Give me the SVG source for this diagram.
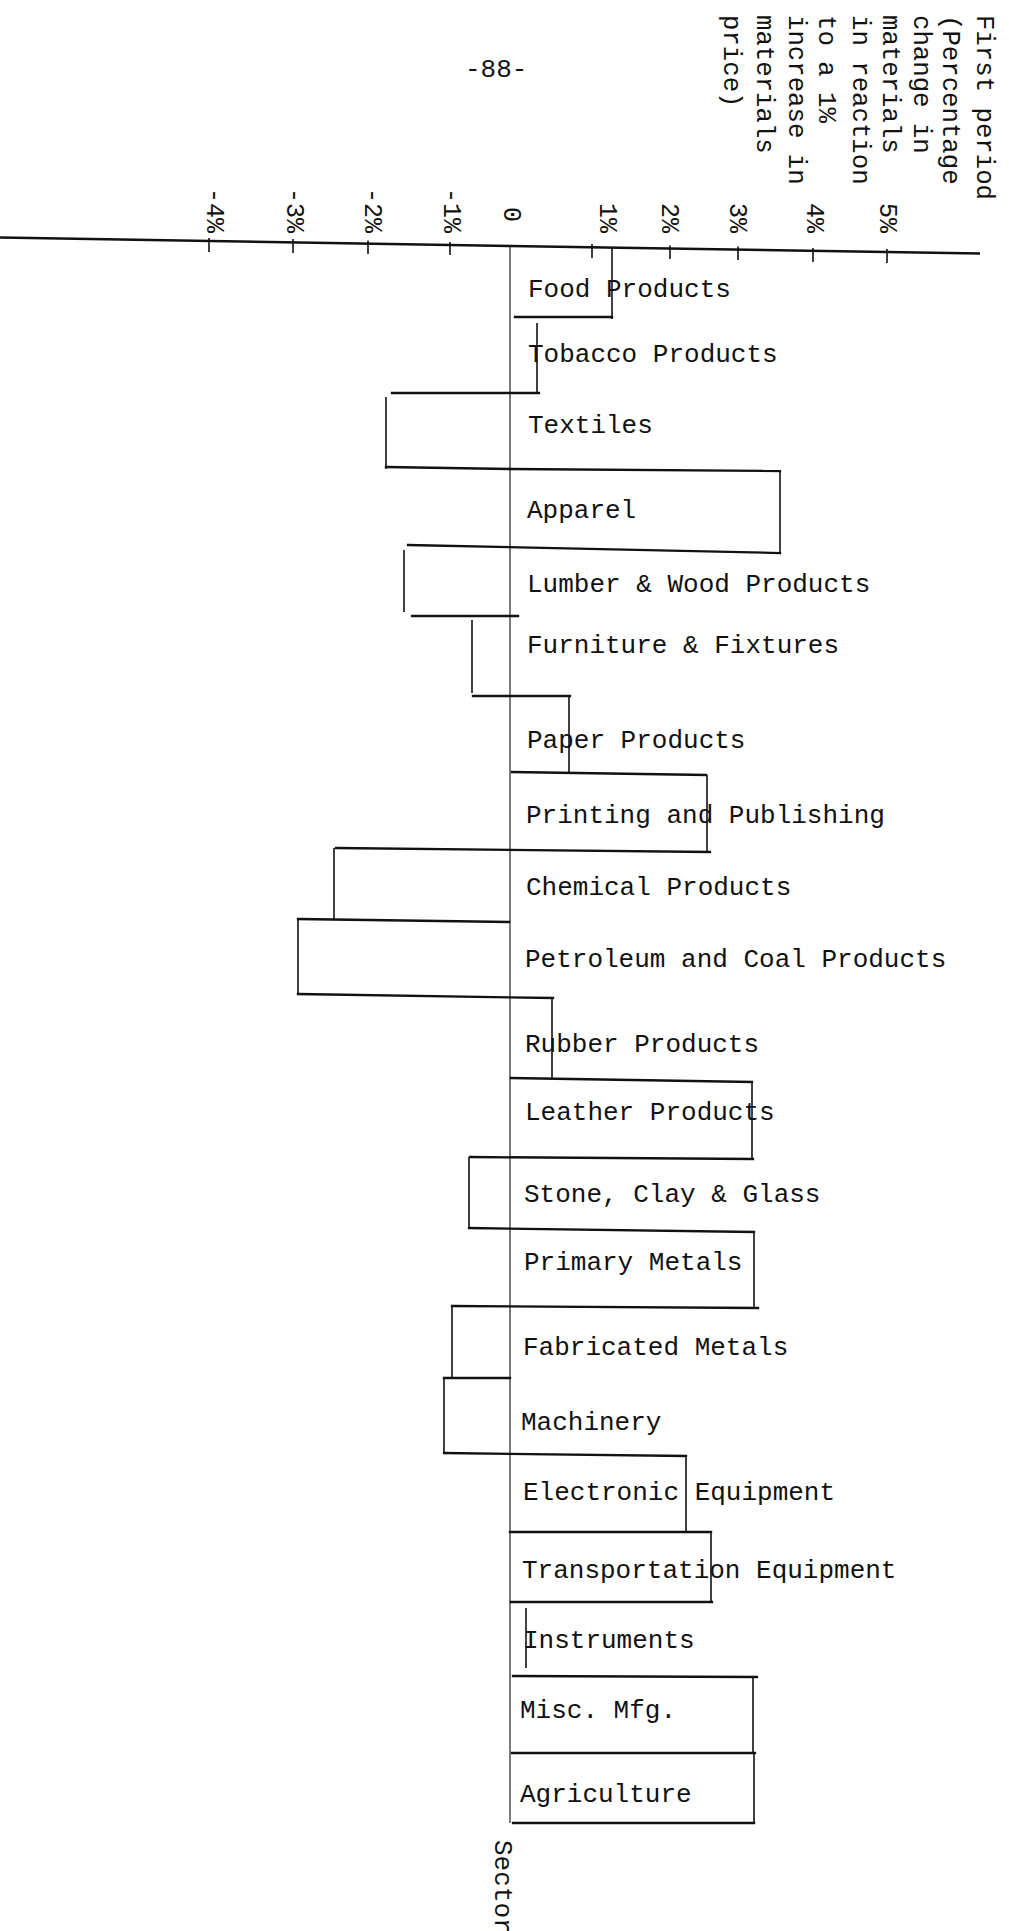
<svg xmlns="http://www.w3.org/2000/svg" width="1009" height="1931" viewBox="0 0 1009 1931">
<style>
text{font-family:"Liberation Mono","Courier New",monospace;fill:#111}
.lbl{font-size:26px}
.ttl{font-size:25.7px}
.ax{font-size:25px}
.h{stroke:#111;stroke-width:2.3;fill:none;stroke-linecap:square}
.v{stroke:#111;stroke-width:1.6;fill:none}
.z{stroke:#222;stroke-width:1.2;fill:none}
.tk{stroke:#111;stroke-width:1.6}
</style>
<rect width="1009" height="1931" fill="#fff"/>

<g id="page-number"><text class="lbl" x="465" y="77">-88-</text></g>

<g id="title">
<text class="ttl" transform="translate(977,15) rotate(90)">First period</text>
<text class="ttl" transform="translate(943,15) rotate(90)">(Percentage</text>
<text class="ttl" transform="translate(914,15) rotate(90)">change in</text>
<text class="ttl" transform="translate(883,15) rotate(90)">materials</text>
<text class="ttl" transform="translate(853,15) rotate(90)">in reaction</text>
<text class="ttl" transform="translate(819,15) rotate(90)">to a 1%</text>
<text class="ttl" transform="translate(789,15) rotate(90)">increase in</text>
<text class="ttl" transform="translate(757,15) rotate(90)">materials</text>
<text class="ttl" transform="translate(724,15) rotate(90)">price)</text>
</g>

<g id="axis">
<path d="M0 237.5 L510 246 L980 253.5" stroke="#111" stroke-width="2.4" fill="none"/>
<g class="tk">
<line x1="209" y1="238" x2="209" y2="252"/>
<line x1="293" y1="239" x2="293" y2="253"/>
<line x1="368" y1="240.5" x2="368" y2="254"/>
<line x1="450" y1="242" x2="450" y2="255"/>
<line x1="592" y1="244" x2="592" y2="258"/>
<line x1="670" y1="245.5" x2="670" y2="259"/>
<line x1="738" y1="246.5" x2="738" y2="260"/>
<line x1="813" y1="248" x2="813" y2="262"/>
<line x1="887" y1="249" x2="887" y2="263"/>
</g>
<g text-anchor="end">
<text class="ax" transform="translate(207,233) rotate(90)">-4%</text>
<text class="ax" transform="translate(287,233) rotate(90)">-3%</text>
<text class="ax" transform="translate(365,233) rotate(90)">-2%</text>
<text class="ax" transform="translate(444,233) rotate(90)">-1%</text>
<text class="ax" transform="translate(504,222) rotate(90)">0</text>
<text class="ax" transform="translate(600,233) rotate(90)">1%</text>
<text class="ax" transform="translate(662,233) rotate(90)">2%</text>
<text class="ax" transform="translate(730,233) rotate(90)">3%</text>
<text class="ax" transform="translate(807,233) rotate(90)">4%</text>
<text class="ax" transform="translate(880,233) rotate(90)">5%</text>
</g>
<text class="lbl" transform="translate(495,1840) rotate(90)">Sector</text>
</g>

<g id="connectors">
<path class="z" d="M510 246 V1823"/>
</g>

<g id="food"><path class="v" d="M612 248 V319"/><path class="h" d="M515 317 H612"/><text class="lbl" x="528" y="297">Food Products</text></g>
<g id="tobacco"><path class="v" d="M537 323 V394"/><path class="h" d="M392 393 H539"/><text class="lbl" x="528" y="362">Tobacco Products</text></g>
<g id="textiles"><path class="v" d="M386 397 V469"/><path class="h" d="M386 467 L510 469"/><text class="lbl" x="528" y="433">Textiles</text></g>
<g id="apparel"><path class="h" d="M510 469 L780 471"/><path class="v" d="M780 471 V553"/><path class="h" d="M408 545 L780 553"/><text class="lbl" x="527" y="518">Apparel</text></g>
<g id="lumber"><path class="v" d="M404 550 V612"/><path class="h" d="M412 616 H518"/><text class="lbl" x="527" y="592">Lumber &amp; Wood Products</text></g>
<g id="furniture"><path class="v" d="M472 620 V693"/><path class="h" d="M473 696 H570"/><text class="lbl" x="527" y="653">Furniture &amp; Fixtures</text></g>
<g id="paper"><path class="v" d="M569 697 V773"/><text class="lbl" x="527" y="748">Paper Products</text></g>
<g id="printing"><path class="h" d="M512 772 L706 775"/><path class="v" d="M707 775 V852"/><path class="h" d="M336 848 L710 852"/><text class="lbl" x="526" y="823">Printing and Publishing</text></g>
<g id="chemical"><path class="v" d="M334 848 V920"/><path class="h" d="M298 919 L509 922"/><text class="lbl" x="526" y="895">Chemical Products</text></g>
<g id="petroleum"><path class="v" d="M298 919 V994"/><path class="h" d="M298 994 L553 998"/><text class="lbl" x="525" y="967">Petroleum and Coal Products</text></g>
<g id="rubber"><path class="v" d="M552 998 V1079"/><path class="h" d="M511 1078 L752 1082"/><text class="lbl" x="525" y="1052">Rubber Products</text></g>
<g id="leather"><path class="v" d="M752 1082 V1158"/><path class="h" d="M470 1157 L753 1159"/><text class="lbl" x="525" y="1120">Leather Products</text></g>
<g id="stone"><path class="v" d="M469 1157 V1229"/><path class="h" d="M469 1228 L754 1232"/><text class="lbl" x="524" y="1202">Stone, Clay &amp; Glass</text></g>
<g id="primary"><path class="v" d="M754 1232 V1307"/><path class="h" d="M452 1306 L758 1308"/><text class="lbl" x="524" y="1270">Primary Metals</text></g>
<g id="fabricated"><path class="v" d="M452 1307 V1378"/><path class="h" d="M444 1378 H510"/><text class="lbl" x="523" y="1355">Fabricated Metals</text></g>
<g id="machinery"><path class="v" d="M444 1378 V1454"/><path class="h" d="M444 1453 L686 1456"/><text class="lbl" x="521" y="1430">Machinery</text></g>
<g id="electronic"><path class="v" d="M686 1456 V1532"/><path class="h" d="M510 1532 H711"/><text class="lbl" x="523" y="1500">Electronic Equipment</text></g>
<g id="transportation"><path class="v" d="M711 1532 V1602"/><path class="h" d="M511 1602 H712"/><text class="lbl" x="522" y="1578">Transportation Equipment</text></g>
<g id="instruments"><path class="v" d="M526 1608 V1668"/><text class="lbl" x="523" y="1648">Instruments</text></g>
<g id="misc"><path class="h" d="M513 1676 L757 1677"/><path class="v" d="M753 1677 V1753"/><path class="h" d="M512 1753 H755"/><text class="lbl" x="520" y="1718">Misc. Mfg.</text></g>
<g id="agriculture"><path class="v" d="M754 1753 V1823"/><path class="h" d="M513 1823 H754"/><text class="lbl" x="520" y="1802">Agriculture</text></g>
</svg>
